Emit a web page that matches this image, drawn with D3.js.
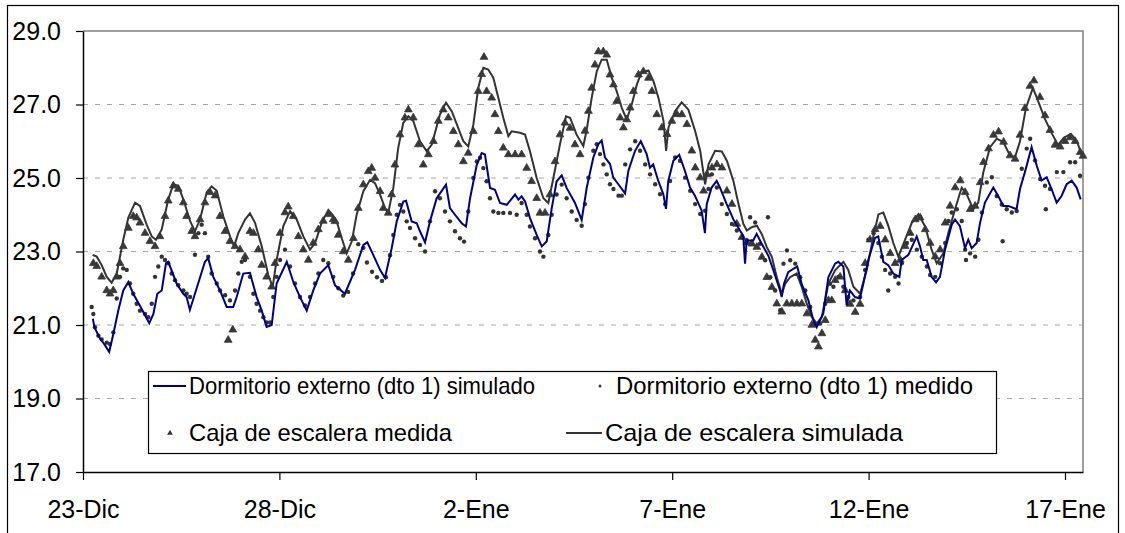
<!DOCTYPE html>
<html>
<head>
<meta charset="utf-8">
<script src="https://cdn.jsdelivr.net/npm/d3@7"></script>
<style>
  body { margin: 0; background: #fff; }
  svg { display: block; font-family: "Liberation Sans", Arial, sans-serif; }
</style>
</head>
<body>
<svg id="chart" width="1125" height="533"></svg>
<script>
// series are [hours since 23-Dic 00:00, temperature]
const bedroomSim = [[6,21.17],[7,20.94],[10,20.66],[13,20.48],[16,20.27],[18.5,20.75],[21.6,21.4],[24.6,21.94],[27.7,22.17],[30.7,21.85],[35.8,21.44],[40.5,21.05],[43,21.3],[45.4,21.85],[48.1,21.94],[50.7,22.68],[52.1,22.72],[57.2,22.13],[61.3,21.85],[63.3,21.76],[65.3,21.41],[68.4,21.85],[74.5,22.72],[76.5,22.82],[79.6,22.31],[83.7,21.94],[87.8,21.49],[91.8,21.49],[93.9,21.76],[97.9,22.4],[102,22.42],[106.1,21.76],[109.2,21.39],[112.2,20.95],[115.3,21.0],[118.3,22.13],[124.5,22.72],[128.5,22.17],[132.6,21.76],[136.7,21.39],[140.7,21.94],[144.8,22.4],[149.9,22.63],[154,22.08],[160,21.85],[166.2,22.5],[171.3,23.18],[173.7,23.25],[177.4,22.9],[181.5,22.5],[184.5,22.28],[188.6,23.09],[191.7,23.82],[195.7,24.36],[197.4,24.38],[200.8,23.82],[203.9,23.77],[205.9,23.55],[209,23.25],[212,23.82],[216.1,24.45],[221.8,24.82],[224.2,24.18],[227.3,24.0],[231.4,23.77],[234,23.68],[236.5,24.45],[240.6,25.36],[243.6,25.68],[245.6,25.64],[248.7,24.73],[251.7,24.68],[254.8,24.32],[258.9,24.27],[264,24.55],[266,24.41],[268,24.5],[270.1,24.36],[273.1,23.91],[277.2,23.45],[280.3,23.14],[283.3,23.27],[286.4,24.18],[289.4,24.91],[292.5,25.07],[295.5,24.73],[300.6,24.32],[304.7,23.86],[307.8,24.74],[311.8,25.56],[314.9,25.92],[316.9,26.02],[318.9,25.56],[322,25.38],[324,25.01],[327.1,24.83],[331.2,24.58],[333.2,25.19],[337.3,25.74],[340.8,26.0],[344.4,25.65],[346.4,25.28],[348.4,25.37],[351.5,24.92],[354.6,24.56],[356.2,24.16],[357.6,24.92],[360.7,25.47],[364.3,25.63],[367.8,25.19],[370.9,24.74],[373.9,24.52],[378,24.11],[380,23.5],[381.1,24.29],[384.1,24.74],[387.2,24.92],[389.2,24.74],[393.3,24.29],[397.3,23.88],[401.4,23.57],[403.4,23.43],[404.5,22.67],[405.5,23.3],[409.5,23.3],[411.6,23.48],[414.7,23.21],[418.7,22.89],[421.8,22.49],[425.9,21.94],[426.9,21.76],[428.3,22.12],[430.9,22.44],[434,22.53],[436.4,22.59],[439.1,22.12],[443.2,21.67],[446.2,21.13],[448.3,20.94],[452.3,21.31],[455.4,22.3],[459.5,22.67],[461.5,22.72],[464.6,22.59],[466.6,21.53],[468.6,21.94],[471.7,21.76],[474.7,21.72],[476.8,22.13],[479.8,22.77],[483.9,23.37],[485.9,23.41],[489,22.72],[492,22.63],[495.1,22.4],[498.8,22.31],[500.2,22.77],[504.3,22.91],[509.4,23.41],[511.4,23.14],[513.4,22.77],[515.5,22.77],[518.5,22.31],[521.2,22.16],[523.6,22.31],[526.7,23.05],[530.8,23.73],[532.8,23.87],[535.8,23.69],[538.9,23.09],[540.9,23.32],[543,23.09],[546,23.23],[548.1,23.78],[551.1,24.33],[556.2,24.74],[559.2,24.51],[562.3,24.24],[565.4,24.24],[570.4,24.15],[572.5,24.7],[575.5,25.16],[579.6,25.84],[582.7,25.34],[585.7,24.93],[588.8,25.02],[591.8,24.7],[594.9,24.33],[597.9,24.51],[601,24.83],[604.1,24.93],[607.1,24.74],[609.6,24.42]];

const bedroomMeas = [[5.3,21.49],[6.3,21.3],[7.3,20.94],[9.4,20.71],[11.4,20.61],[14.5,20.52],[16.5,20.48],[18.5,20.8],[20.6,21.72],[22.6,22.31],[24.6,22.54],[26.7,22.5],[28.7,22.13],[30.7,21.85],[32.8,21.58],[34.8,21.39],[37.9,21.3],[39.9,21.21],[42,21.58],[44,22.31],[46,22.59],[48.1,22.86],[50.1,22.77],[52.1,22.68],[54.2,22.4],[56.2,22.22],[58.2,22.08],[61.3,21.94],[63.3,21.85],[65.4,21.76],[68.4,22.91],[70.5,23.5],[72.5,23.73],[74.5,23.5],[76.5,22.86],[78.6,22.4],[81.7,22.13],[83.7,21.94],[86.8,21.81],[89.8,21.67],[92.9,21.94],[94.9,22.4],[97,22.72],[99,22.77],[102,22.31],[104.1,21.85],[106.1,21.58],[108.2,21.39],[110.2,21.21],[112.2,21.07],[114.3,21.07],[116.3,21.76],[118.3,22.31],[120.4,22.77],[123.4,23.05],[126.5,22.59],[129.5,22.13],[132.6,21.76],[135.6,21.53],[138.7,21.76],[141.8,22.13],[143.8,22.4],[146.8,22.77],[149.9,22.68],[152.9,22.31],[156,22.0],[159,21.8],[162,21.9],[165,22.4],[168.2,23.2],[171.3,23.1],[173.5,22.7],[176.6,22.45],[179.6,22.3],[182.7,22.2],[185.1,22.3],[187.6,22.9],[189.6,23.45],[191.7,24.0],[193.7,24.27],[195.7,24.09],[197.8,23.82],[199.8,23.64],[202.9,23.36],[205.9,23.18],[209,23.0],[212,23.82],[215.1,24.64],[218.1,24.45],[221.2,24.09],[224.2,23.82],[227.3,23.55],[230.3,23.36],[232.8,23.27],[235.4,24.09],[238.5,25.0],[240.6,25.45],[242.6,25.55],[244.6,25.27],[246.6,24.91],[248.7,24.45],[250.7,24.09],[253.8,24.05],[256.8,24.05],[260.9,24.05],[265,24.0],[268,24.32],[271.1,24.0],[273.1,23.68],[276.2,23.36],[279.2,23.0],[281.3,22.86],[284.3,23.45],[286.4,24.0],[289.4,24.55],[292.5,24.82],[295.5,24.45],[298.6,24.09],[301.6,23.86],[304.7,23.7],[306.7,24.29],[308.8,25.01],[311.8,25.74],[313.9,25.92],[315.9,25.65],[318,25.37],[320,25.1],[322,24.83],[324.1,24.7],[327.2,24.52],[329.2,24.52],[331.3,25.37],[334.3,25.78],[337.4,26.0],[340.4,25.74],[343.5,25.37],[346.5,25.1],[349.6,24.83],[352.6,24.56],[355.7,24.29],[358.7,24.92],[361.8,25.56],[364.8,25.47],[367.9,25.01],[371,24.65],[374,24.29],[377.1,24.02],[380.1,24.11],[382.2,24.7],[384.2,25.1],[387.3,24.74],[390.3,24.29],[393.4,24.02],[396.5,23.75],[399.5,23.57],[402.6,23.39],[405.6,23.3],[407.6,23.93],[410.7,23.79],[413.7,23.21],[416.8,22.76],[418.5,23.93],[419.9,22.3],[422.9,21.94],[426,21.4],[428,22.67],[430.1,23.03],[432.1,22.76],[435.2,22.67],[438.2,22.3],[441.3,21.94],[444.3,21.49],[447.4,21.04],[450.4,21.04],[453.5,21.58],[456.5,22.12],[458.5,22.04],[461.5,22.31],[464.6,22.04],[467.6,21.76],[470.7,21.67],[474.8,21.76],[477.9,22.5],[479.9,23.32],[483,23.5],[486,23.23],[488.1,22.86],[490.1,22.5],[492,21.94],[493.2,22.4],[496.2,22.31],[498.3,22.13],[500.3,22.68],[503.4,23.23],[506.4,23.32],[509.5,23.05],[512.5,22.86],[515.6,22.59],[517.6,22.36],[520.7,22.31],[523.7,22.68],[526.8,23.23],[528.8,23.83],[530.8,24.06],[533.9,24.15],[536.9,23.83],[539,23.05],[539.5,22.77],[542,22.95],[545.1,22.86],[547.1,23.32],[549.2,24.06],[552.2,24.88],[555.3,25.02],[558.3,24.51],[561.4,24.28],[561.9,23.28],[564.4,24.15],[567.5,24.06],[570.5,24.1],[573.6,25.25],[576.6,25.8],[578.7,26.07],[581.7,25.48],[584.8,24.97],[587.8,24.79],[588.3,24.15],[590.9,24.7],[595,25.16],[599,25.16],[603.1,25.43],[606.2,25.43],[609.2,25.06]];

const stairMeas = [[6.3,22.68],[8.4,22.6],[11.4,22.31],[14.5,21.94],[16.5,21.85],[18.5,21.94],[20.6,22.31],[22.6,22.68],[24.6,23.14],[27.7,23.64],[30.7,23.96],[32.8,23.92],[34.8,23.78],[37.9,23.5],[40.9,23.28],[44,23.14],[47,23.41],[50.1,23.96],[52.1,24.38],[55.2,24.79],[58.2,24.7],[61.3,24.33],[63.3,23.96],[66.4,23.55],[68.4,23.41],[71.5,23.87],[74.5,24.33],[77.6,24.61],[80.7,24.52],[83.7,23.96],[86.8,23.55],[88.7,20.59],[89.8,23.28],[91.5,20.87],[92.9,23.14],[95.9,23.05],[99,22.86],[102,23.55],[104.1,23.5],[107.1,23.05],[109.2,22.63],[112.2,22.31],[115.3,22.04],[117.3,22.68],[120.4,23.5],[123.4,24.06],[125.4,24.22],[128.5,23.96],[131.6,23.41],[134.6,23.05],[137.7,22.77],[140.7,23.23],[143.8,23.6],[146.8,23.83],[149.9,24.01],[152.9,23.87],[154,23.82],[156,23.45],[159,23.0],[162.1,22.77],[165.2,23.36],[168.2,24.18],[171.3,24.82],[174.3,25.18],[176.4,25.27],[178.4,25.0],[181.5,24.64],[183.5,24.18],[186.5,24.05],[188.6,24.55],[190.6,25.36],[193.7,26.18],[196.7,26.64],[198.8,26.86],[201.8,26.64],[204.9,25.91],[207.9,25.36],[211,25.64],[214.1,26.0],[217.1,26.55],[220.1,26.86],[223.2,26.64],[226.3,26.27],[229.3,25.91],[232.4,25.45],[235.4,25.68],[238.5,26.27],[241.5,27.36],[243.6,27.82],[245,28.29],[246.6,27.36],[249.7,27.18],[251.7,26.73],[253.8,26.27],[256.8,25.82],[259.9,25.64],[264,25.64],[268,25.64],[271.1,25.27],[274.1,24.91],[277.2,24.45],[279.2,24.05],[282.3,24.05],[285.3,24.55],[288.4,25.45],[291.4,26.18],[294.5,26.5],[297.6,26.36],[300.6,25.91],[303.7,25.64],[306.7,26.28],[308.8,26.82],[310.8,27.45],[312.8,28.08],[314.9,28.44],[317.9,28.44],[320,28.35],[322,27.81],[324.1,27.54],[326.1,27.09],[328.2,26.64],[330.2,26.37],[332.2,26.59],[334.3,26.91],[336.3,27.36],[339.4,27.81],[342.4,27.9],[345.5,27.72],[347.6,27.36],[350.6,26.73],[353.7,26.37],[356.8,26.19],[359.8,26.55],[362.9,26.73],[365.9,26.73],[369,26.46],[372,25.74],[374.1,25.28],[377.1,25.01],[379.2,24.65],[381.2,25.1],[384.3,25.28],[387.3,25.37],[390.4,25.28],[393.4,24.65],[396.5,24.29],[399.5,23.75],[402.6,23.39],[405.6,23.25],[408.7,23.21],[411.7,23.12],[414.8,22.85],[417.8,22.3],[420.9,22.03],[423.9,21.58],[427,21.36],[430,21.58],[433.1,21.58],[436.2,21.58],[439.2,21.58],[442.3,21.31],[445.3,21.0],[447.4,20.59],[449.4,20.41],[451.5,20.77],[453.5,21.13],[455.5,21.67],[457.5,21.67],[459.6,22.22],[462.6,22.31],[465.7,21.94],[468.7,21.57],[471.8,21.35],[474.8,21.57],[477.9,22.68],[480.9,23.32],[484,23.6],[487.1,23.69],[490.1,23.32],[493.2,22.95],[496.2,22.68],[499.3,22.77],[502.3,23.14],[505.4,23.5],[508.5,23.87],[511.5,23.92],[514.6,23.6],[517.6,23.23],[520.7,22.86],[523.7,23.05],[526.8,23.78],[529.8,24.24],[532.9,24.74],[536,24.93],[539,24.61],[542.1,24.15],[545.1,24.24],[548.2,24.88],[550.2,25.43],[553.3,25.8],[556.3,26.17],[559.4,26.26],[562.5,25.98],[566.4,25.61],[569.5,25.52],[572.5,26.17],[575.5,26.9],[578.6,27.5],[581,27.65],[584.7,27.2],[587.8,26.7],[590.8,26.3],[593.9,25.9],[597,25.85],[600,26.0],[603.1,26.1],[606.2,26.0],[609.3,25.7],[611,25.6]];

const stairSim = [[5.9,22.91],[8.4,22.86],[11.4,22.63],[14.5,22.31],[17.5,22.15],[20.6,22.4],[24.6,23.32],[27.7,23.92],[31.8,24.33],[34.8,24.24],[38.9,23.73],[42,23.41],[44.6,23.32],[48.1,23.6],[52.1,24.42],[55.2,24.83],[58.2,24.79],[61.3,24.42],[65.4,23.83],[68.4,23.55],[71.5,23.87],[75.6,24.61],[78.6,24.77],[81.7,24.65],[85.7,23.96],[89.8,23.41],[92.3,23.14],[94.9,23.5],[99,23.87],[102,24.04],[105.1,23.78],[109.2,23.14],[113.2,22.36],[115.9,22.04],[118.3,22.77],[122.4,23.69],[126.5,24.1],[130.6,23.87],[134.6,23.41],[138.7,23.05],[141.8,23.23],[145.8,23.78],[149.9,24.13],[152.5,24.0],[155,23.82],[158.1,23.36],[161.1,22.95],[164.2,23.27],[167.2,24.0],[171.3,24.64],[175.4,24.95],[178.4,24.86],[181.5,24.55],[184.5,24.18],[186.5,24.05],[189.6,24.73],[192.6,25.82],[195.7,26.5],[198.8,26.68],[201.8,26.55],[205.9,26.0],[210,25.73],[213.1,25.91],[218.1,26.73],[221.8,27.05],[225.3,26.82],[229.3,26.36],[232.4,26.0],[235.4,25.86],[238.5,26.45],[241.5,27.45],[244.6,28.0],[247.6,27.95],[250.7,27.73],[253.8,27.18],[256.8,26.64],[259.9,26.14],[261.9,26.27],[267,26.23],[270.1,26.18],[273.1,25.73],[277.2,25.0],[281.3,24.45],[284.3,24.32],[287.4,25.0],[291.4,25.91],[295.1,26.68],[297.6,26.64],[301.6,26.18],[305.7,25.87],[307.8,26.32],[310.8,27.18],[313.9,27.9],[316.9,28.22],[320,28.22],[323.1,27.72],[326.1,27.36],[329.2,26.91],[332.2,26.59],[335.3,27.0],[338.4,27.54],[341.4,27.9],[345.5,27.92],[348.6,27.63],[351.6,27.18],[354.7,26.55],[356.3,25.74],[357.7,26.37],[361.8,26.82],[365.8,27.06],[369.9,26.86],[374,26.28],[377.1,25.74],[380.1,24.83],[382.2,25.37],[386.2,25.74],[390.3,25.72],[393.4,25.47],[397.4,24.92],[400.5,24.29],[403.5,23.75],[405.6,23.57],[408.6,23.66],[411.7,23.7],[414.7,23.48],[417.8,23.12],[420.9,22.85],[423.9,22.3],[427,21.85],[429,22.12],[432,22.3],[436.1,22.4],[439.2,22.03],[442.2,21.58],[445.3,21.22],[448.3,21.04],[451.4,21.22],[455.4,22.12],[459.5,22.49],[464.6,22.72],[467.6,22.5],[470.7,22.04],[474.8,21.85],[478.9,22.5],[482.9,23.41],[486,24.01],[489,24.06],[492.1,23.69],[495.1,23.23],[498.2,22.86],[502.3,23.32],[506.4,23.78],[510.4,24.01],[514.5,23.69],[518.5,23.05],[521.6,22.68],[525.7,22.95],[528.7,23.5],[532.8,24.15],[536.9,24.74],[539.9,24.56],[544,24.15],[547,24.33],[550.1,25.16],[554.2,25.84],[558.3,26.07],[562.3,25.98],[566.4,25.61],[569.5,25.57],[572.5,26.0],[576.1,26.9],[580.4,27.45],[583.5,27.1],[587.8,26.6],[592.1,26.2],[595.8,25.9],[599.4,26.1],[603.7,26.2],[607.3,26.0],[610.4,25.6]];

const xTickDays = [0, 5, 10, 15, 20, 25];
const xTickLabels = ["23-Dic", "28-Dic", "2-Ene", "7-Ene", "12-Ene", "17-Ene"];
const yTicks = [17, 19, 21, 23, 25, 27, 29];
const legendLabels = [
  "Dormitorio externo (dto 1) simulado",
  "Dormitorio externo (dto 1) medido",
  "Caja de escalera medida",
  "Caja de escalera simulada"
];

const start = Date.UTC(2004, 11, 23);
const at = h => new Date(start + h * 3600e3);

const svg = d3.select("#chart");
const plotLeft = 83, plotRight = 1083, plotTop = 31, plotBottom = 472;

// chart frame
svg.append("rect")
  .attr("x", 7.5).attr("y", 5.5)
  .attr("width", 1111).attr("height", 600)
  .attr("fill", "#fff").attr("stroke", "#000").attr("stroke-width", 1.2);

const x = d3.scaleUtc().domain([at(0), at(611)]).range([plotLeft, plotRight]);
const y = d3.scaleLinear().domain([17, 29]).range([plotBottom, plotTop]);

// gridlines
svg.append("g").selectAll("line")
  .data(yTicks.filter(v => v > 17 && v < 29))
  .join("line")
    .attr("x1", plotLeft).attr("x2", plotRight)
    .attr("y1", d => y(d)).attr("y2", d => y(d))
    .attr("stroke", "#a8a8a8")
    .attr("stroke-dasharray", "5,7");

// plot area border (top + right)
svg.append("path")
  .attr("d", `M${plotLeft},${plotTop}H${plotRight}V${plotBottom}`)
  .attr("fill", "none").attr("stroke", "#808080").attr("stroke-width", 1.5);

// series
const line = d3.line().x(d => x(at(d[0]))).y(d => y(d[1]));

svg.append("path").datum(stairSim)
  .attr("d", line).attr("fill", "none")
  .attr("stroke", "#333").attr("stroke-width", 2);

svg.append("g").selectAll("path")
  .data(stairMeas)
  .join("path")
    .attr("transform", d => `translate(${x(at(d[0]))},${y(d[1])})`)
    .attr("d", d3.symbol(d3.symbolTriangle, 26))
    .attr("fill", "#383838")
    .attr("stroke", "#383838").attr("stroke-width", 0.8);

svg.append("g").selectAll("circle")
  .data(bedroomMeas)
  .join("circle")
    .attr("cx", d => x(at(d[0]))).attr("cy", d => y(d[1]))
    .attr("r", 2.2).attr("fill", "#333");

svg.append("path").datum(bedroomSim)
  .attr("d", line).attr("fill", "none")
  .attr("stroke", "#000080").attr("stroke-width", 2);

// axes
const yAxis = svg.append("g")
  .attr("transform", `translate(${plotLeft},0)`)
  .call(d3.axisLeft(y).tickValues(yTicks).tickFormat(d3.format(".1f"))
    .tickSize(7).tickSizeOuter(0).tickPadding(15));

const xAxis = svg.append("g")
  .attr("transform", `translate(0,${plotBottom})`)
  .call(d3.axisBottom(x).tickValues(xTickDays.map(d => at(d * 24)))
    .tickFormat((d, i) => xTickLabels[i])
    .tickSize(8).tickSizeOuter(0).tickPadding(20));

[yAxis, xAxis].forEach(g => {
  g.select(".domain").attr("stroke", "#000").attr("stroke-width", 1.5);
  g.selectAll(".tick line").attr("stroke", "#000").attr("stroke-width", 1.2);
  g.selectAll("text").attr("font-size", 25).attr("font-family", "Liberation Sans, Arial, sans-serif").attr("fill", "#000");
});

// legend
const legend = svg.append("g");
legend.append("rect")
  .attr("x", 148.5).attr("y", 371.5).attr("width", 848).attr("height", 82)
  .attr("fill", "#fff").attr("stroke", "#000").attr("stroke-width", 1.2);

const row1 = 386, row2 = 433;
legend.append("line").attr("x1", 153).attr("x2", 186).attr("y1", row1).attr("y2", row1)
  .attr("stroke", "#000080").attr("stroke-width", 2);
legend.append("circle").attr("cx", 600).attr("cy", row1).attr("r", 1.5).attr("fill", "#333");
legend.append("path").attr("transform", `translate(170,${row2})`)
  .attr("d", d3.symbol(d3.symbolTriangle, 14)).attr("fill", "#333");
legend.append("line").attr("x1", 566).attr("x2", 602).attr("y1", row2).attr("y2", row2)
  .attr("stroke", "#333").attr("stroke-width", 2);

// text widths as measured on the reference legend
const legendTextX = [189, 616, 189, 605];
const legendTextW = [346, 357, 263, 298];
legend.selectAll("text")
  .data(legendLabels)
  .join("text")
    .attr("x", (d, i) => legendTextX[i])
    .attr("y", (d, i) => i < 2 ? row1 : row2)
    .attr("dy", "0.35em")
    .attr("font-size", 24)
    .attr("textLength", (d, i) => legendTextW[i])
    .attr("lengthAdjust", "spacingAndGlyphs")
    .text(d => d);
</script>
</body>
</html>
